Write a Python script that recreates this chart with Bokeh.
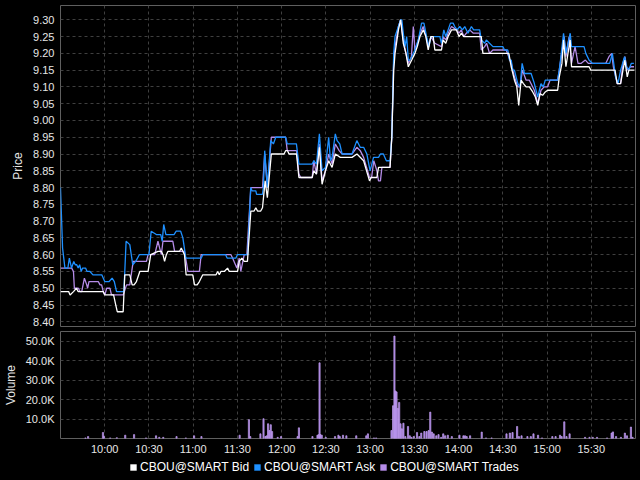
import numpy as np
from bokeh.plotting import figure
from bokeh.models import (ColumnDataSource, Range1d, FixedTicker, Legend, LegendItem,
                          GlobalInlineStyleSheet)
from bokeh.layouts import column
from bokeh.embed import file_html
from bokeh.resources import INLINE

# ---------------- data (times = minutes after the 09:30 open) ----------------
ask_t = [0, 1.4, 3, 5, 6, 7.5, 9, 10, 11, 12, 13, 14, 15, 17, 18, 20, 22, 28, 30, 33,
         35, 36.5, 38, 43, 44.5, 47, 49, 51, 53.5, 60, 61.5, 65, 68, 69, 70, 71.5, 77, 78.5,
         81.5, 83, 85, 95.5, 96.5, 112, 113, 119, 120, 127, 129, 130, 132.5, 133, 137, 137.6,
         138.5, 140.3, 142.6, 144.4, 146, 152.7, 153.8, 160, 161.7, 170.7, 171.8, 173.6, 175.6,
         177.4, 179.7, 181.9, 183.1, 184.2, 186.4, 187.6, 189.4, 191, 197.7, 201, 203.3, 205.6,
         207.8, 210, 212.3, 215.7, 217, 219, 221, 223.5, 224.7, 226, 226.9, 229.2, 230.7, 231.5,
         232.5, 233.7, 234.8, 235.9, 237, 238.2, 240.4, 242.7, 244.9, 246.5, 248.3, 249.9,
         251.2, 252.8, 257.3, 258.4, 260, 261.3, 262.9, 264.5, 266.3, 267.4, 269, 270.8, 272.6,
         274.2, 276.4, 278.7, 280.2, 284.3, 285.4, 287.7, 288.8, 291, 293.3, 300, 301.2, 303.4,
         304.5, 305.7, 306.8, 307.9, 309, 310.2, 311.7, 313.1, 314.7, 316.9, 319.2, 321.4,
         323.7, 325.9, 327.5, 328.8, 331.5, 337.2, 338.3, 339.4, 341.2, 342.8, 345.7, 346.6,
         355.1, 356.3, 358.5, 360.8, 370.9, 372.5, 374.3, 376.5, 378.1, 379.9, 382.6, 383.9,
         385.5, 387.1, 388.9]
ask_p = [8.80, 8.62, 8.56, 8.56, 8.59, 8.56, 8.58, 8.57, 8.57, 8.56, 8.57, 8.55, 8.56, 8.56,
         8.55, 8.55, 8.54, 8.54, 8.52, 8.52, 8.53, 8.52, 8.49, 8.49, 8.64, 8.63, 8.57, 8.58,
         8.60, 8.60, 8.67, 8.66, 8.66, 8.64, 8.69, 8.66, 8.66, 8.67, 8.67, 8.65, 8.59, 8.59,
         8.60, 8.60, 8.59, 8.59, 8.60, 8.60, 8.80, 8.79, 8.79, 8.78, 8.78, 8.80, 8.91, 8.80,
         8.94, 8.93, 8.95, 8.95, 8.93, 8.93, 8.87, 8.87, 8.88, 8.87, 8.96, 8.85, 8.86, 8.95,
         8.88, 8.89, 8.96, 8.94, 8.93, 8.90, 8.90, 8.94, 8.92, 8.92, 8.90, 8.85, 8.89, 8.89,
         8.90, 8.90, 8.88, 8.88, 8.95, 9.20, 9.25, 9.28, 9.30, 9.30, 9.26, 9.22, 9.25, 9.18,
         9.18, 9.19, 9.21, 9.24, 9.29, 9.29, 9.25, 9.22, 9.25, 9.25, 9.25, 9.23, 9.27, 9.25,
         9.27, 9.29, 9.29, 9.28, 9.27, 9.28, 9.27, 9.28, 9.26, 9.28, 9.27, 9.27, 9.24, 9.23,
         9.24, 9.23, 9.22, 9.22, 9.21, 9.21, 9.18, 9.18, 9.15, 9.15, 9.13, 9.11, 9.10, 9.17,
         9.14, 9.14, 9.14, 9.11, 9.07, 9.11, 9.10, 9.12, 9.12, 9.12, 9.15, 9.19, 9.26, 9.20,
         9.26, 9.22, 9.22, 9.20, 9.18, 9.17, 9.17, 9.17, 9.20, 9.13, 9.11, 9.15, 9.19, 9.16,
         9.15, 9.17, 9.17]

bid_t = [0, 5.5, 6.5, 8.8, 10.8, 12, 29, 30, 36, 37.5, 38.5, 42.5, 43.6, 47, 48.6, 49.9,
         51.5, 53.8, 59.4, 61.2, 66.1, 68.4, 69.5, 70.6, 71.8, 72.9, 80.8, 81.9, 84.1, 85.2,
         89.7, 90.9, 92.7, 94.2, 96.5, 97.6, 105.5, 106.6, 107.7, 108.8, 111.1, 113.3, 114.5,
         120.1, 121.2, 123, 124.6, 126.8, 129.1, 131.3, 132.5, 133.6, 135.8, 137, 138.8, 140.3,
         143, 151.6, 152.7, 154, 155, 160.1, 161.7, 170.7, 171.8, 173.6, 175.6, 177.4, 179.7,
         181.9, 184.2, 186.4, 189.8, 197.7, 201.1, 205.6, 209.6, 210.7, 214.6, 215.7, 223.5,
         224.7, 226, 226.9, 229.2, 230.7, 232.5, 234.3, 235.9, 238.2, 240.4, 242, 243.8, 246.1,
         247.8, 249.4, 251.2, 252.8, 253.9, 258.4, 259.5, 261.3, 262.9, 265.2, 268.5, 270.3,
         271.9, 273.5, 275.3, 285.4, 286.5, 300, 302.3, 304.1, 305.7, 307.9, 309.5, 310.8,
         312.4, 314, 315.8, 318, 320.3, 322.1, 323.7, 325.2, 327, 328.8, 330.4, 337.2, 338.3,
         340.1, 341.2, 342.8, 344.2, 345.7, 346.6, 358.5, 359.7, 361.9, 376.1, 377.6, 379.9,
         381.5, 382.8, 384.4, 385.5, 387.8, 389.3]
bid_p = [8.49, 8.49, 8.48, 8.49, 8.50, 8.49, 8.49, 8.48, 8.48, 8.45, 8.43, 8.43, 8.54, 8.54,
         8.51, 8.51, 8.52, 8.55, 8.55, 8.60, 8.61, 8.61, 8.60, 8.58, 8.60, 8.61, 8.61, 8.62,
         8.60, 8.54, 8.54, 8.51, 8.51, 8.52, 8.54, 8.54, 8.54, 8.55, 8.54, 8.55, 8.55, 8.56,
         8.55, 8.55, 8.58, 8.59, 8.58, 8.58, 8.73, 8.73, 8.74, 8.73, 8.73, 8.74, 8.82, 8.77,
         8.90, 8.90, 8.91, 8.91, 8.90, 8.90, 8.83, 8.83, 8.85, 8.84, 8.92, 8.81, 8.85, 8.88,
         8.86, 8.90, 8.89, 8.89, 8.90, 8.88, 8.82, 8.83, 8.83, 8.86, 8.86, 8.95, 9.15, 9.20,
         9.27, 9.30, 9.23, 9.20, 9.16, 9.18, 9.20, 9.22, 9.25, 9.27, 9.25, 9.21, 9.25, 9.25,
         9.21, 9.21, 9.24, 9.23, 9.25, 9.27, 9.27, 9.25, 9.26, 9.25, 9.25, 9.25, 9.20, 9.20,
         9.20, 9.20, 9.16, 9.12, 9.10, 9.045, 9.12, 9.11, 9.10, 9.10, 9.085, 9.07, 9.045, 9.08,
         9.075, 9.085, 9.09, 9.09, 9.13, 9.17, 9.24, 9.16, 9.20, 9.24, 9.16, 9.16, 9.15, 9.15,
         9.15, 9.11, 9.11, 9.15, 9.18, 9.13, 9.15, 9.15, 9.15]

trade_t = [0, 7.6, 8.8, 9.4, 12.1, 13.3, 14.4, 16.2, 17.8, 18.4, 19.3, 25.6, 26.8, 27.9, 29,
           30.1, 31.3, 33.5, 34.6, 42.5, 44.8, 47, 49.3, 58.3, 59.4, 63.9, 66.1, 68.4, 69.5,
           76.2, 77.4, 84.1, 86.4, 94.2, 95.4, 115.6, 116.7, 119.6, 121.2, 122.3, 124.6, 126.4,
           129.1, 137, 138.5, 140.3, 143, 152.7, 153.8, 160.1, 161.7, 163, 170.7, 171.8, 173.6,
           175.6, 177.4, 179.7, 181.9, 184.2, 186.4, 189, 191, 197.7, 201, 203.3, 205.6, 209.6,
           211, 212.5, 214.6, 215.7, 217, 218, 223.5, 224.7, 226, 226.9, 229.2, 230.7, 232.5,
           234.3, 235.9, 238, 239.3, 240.4, 242, 244, 246, 248, 249.4, 251.2, 253.9, 258.4,
           259.5, 261.3, 262.9, 265.2, 268.5, 270.3, 271.9, 273.5, 275.3, 277.5, 280, 284.3,
           285.4, 287.7, 289, 291, 293.3, 300, 302.3, 305.7, 307.9, 310.2, 311.7, 313.3, 315.8,
           318, 321.4, 323.7, 325.9, 328, 330.4, 332, 337.2, 338.3, 341.6, 342.8, 345, 346.6,
           349, 351, 353, 356, 358, 369.8, 372, 373.8, 375, 377.6, 379.9, 381.5, 382.8, 384.4,
           386.6, 389]
trade_p = [8.56, 8.56, 8.55, 8.50, 8.50, 8.49, 8.49, 8.53, 8.51, 8.50, 8.52, 8.52, 8.51,
           8.51, 8.49, 8.48, 8.50, 8.50, 8.48, 8.48, 8.51, 8.51, 8.58, 8.58, 8.60, 8.60, 8.64,
           8.60, 8.64, 8.64, 8.61, 8.61, 8.55, 8.55, 8.60, 8.60, 8.59, 8.56, 8.59, 8.55, 8.60,
           8.60, 8.80, 8.80, 8.90, 8.80, 8.95, 8.95, 8.91, 8.91, 8.84, 8.83, 8.83, 8.88, 8.84,
           8.93, 8.82, 8.85, 8.90, 8.87, 8.93, 8.91, 8.90, 8.90, 8.92, 8.91, 8.89, 8.83, 8.83,
           8.88, 8.85, 8.82, 8.82, 8.86, 8.86, 8.95, 9.18, 9.22, 9.28, 9.30, 9.24, 9.20, 9.17,
           9.19, 9.28, 9.21, 9.23, 9.26, 9.28, 9.25, 9.22, 9.25, 9.23, 9.22, 9.25, 9.24, 9.26,
           9.28, 9.27, 9.26, 9.27, 9.25, 9.26, 9.27, 9.26, 9.26, 9.21, 9.22, 9.23, 9.20, 9.21,
           9.21, 9.21, 9.17, 9.13, 9.10, 9.10, 9.15, 9.12, 9.12, 9.09, 9.05, 9.09, 9.10, 9.10,
           9.12, 9.12, 9.15, 9.25, 9.19, 9.25, 9.17, 9.22, 9.17, 9.17, 9.18, 9.17, 9.17, 9.19,
           9.20, 9.16, 9.11, 9.11, 9.17, 9.19, 9.15, 9.16, 9.16]

vol_t = [16.9, 18.7, 28.8, 29.5, 33.7, 38.2, 43.9, 49.9, 58, 64.8, 67, 69.7, 78.7, 85, 90.6,
         95.6, 121.5, 127.8, 128.7, 135.6, 137.7, 139, 139.9, 140.8, 141.7, 142.6, 143.5,
         147.3, 149.6, 160.8, 161.7, 170.9, 174.3, 175.2, 175.7, 176.3, 177.2, 179.9, 186.2,
         188.5, 189.4, 191.6, 193.9, 200.6, 207.4, 208.5, 212.6, 214.1, 224.5, 225.6, 226.5,
         227.2, 227.9, 228.8, 229.7, 230.6, 231.5, 232.6, 233.9, 235.7, 236.9, 238, 239.6,
         241.8, 243.4, 244.7, 246.8, 248.3, 249.7, 250.8, 251.9, 253.1, 254.9, 256.4, 258.2,
         259.6, 260.9, 262.7, 265.4, 270.6, 273.3, 274.4, 275.5, 277.8, 285.7, 288.6, 292.4,
         302.5, 304.8, 306.6, 309.7, 310.9, 312.7, 316.7, 319, 320.8, 323.9, 326.6, 333.6,
         335.8, 338.8, 339.9, 341.7, 343.2, 345.3, 355.8, 358.8, 361, 363.9, 370.7, 373.8,
         374.7, 376.8, 380.1, 382.8, 384.2, 386.9, 388]
vol_k = [0.3, 1.0, 3.1, 1.0, 0.3, 0.4, 1.7, 2.0, 0.3, 1.4, 0.6, 0.6, 1.0, 0.3, 1.4, 1.0, 1.7,
         9.7, 1.0, 2.4, 10.2, 1.0, 1.4, 7.6, 4.1, 7.1, 3.6, 0.6, 1.0, 1.0, 5.5, 1.0, 1.7, 2.0,
         39.0, 2.0, 1.7, 0.6, 1.0, 1.7, 1.0, 1.7, 1.4, 1.4, 1.4, 2.4, 0.3, 0.3, 4.1, 16.9, 52.8,
         24.5, 24.0, 15.5, 18.6, 7.6, 5.0, 7.9, 1.0, 6.2, 1.4, 0.6, 1.0, 3.1, 1.0, 2.8, 3.6,
         3.6, 4.1, 13.6, 3.3, 2.4, 1.4, 2.0, 0.6, 2.4, 1.4, 1.7, 1.0, 1.7, 1.4, 1.4, 1.0, 1.4,
         3.3, 0.3, 0.3, 2.4, 2.8, 3.1, 6.2, 1.0, 1.4, 1.0, 1.0, 2.4, 1.7, 0.3, 1.0, 1.0, 1.7,
         1.0, 8.6, 1.0, 2.4, 0.6, 0.6, 0.6, 0.6, 0.3, 2.8, 3.4, 1.0, 0.6, 2.8, 1.4, 5.9, 0.6]

time_tick_labels = ["10:00", "10:30", "11:00", "11:30", "12:00", "12:30",
                    "13:00", "13:30", "14:00", "14:30", "15:00", "15:30"]
price_tick_labels = ["8.40", "8.45", "8.50", "8.55", "8.60", "8.65", "8.70", "8.75", "8.80",
                     "8.85", "8.90", "8.95", "9.00", "9.05", "9.10", "9.15", "9.20", "9.25",
                     "9.30"]
volume_tick_labels = ["10.0K", "20.0K", "30.0K", "40.0K", "50.0K"]
series_names = ["CBOU@SMART Bid", "CBOU@SMART Ask", "CBOU@SMART Trades"]

# ---------------- styling ----------------
FONT = "Liberation Sans"
BID_C, ASK_C, TRD_C = "#ffffff", "#1e90ff", "#b58ce8"
GRID_C = "#3f3f3f"
OPEN_MIN = 9 * 60 + 30

time_ticks = [int(s[:2]) * 60 + int(s[3:]) - OPEN_MIN for s in time_tick_labels]
price_ticks = [float(s) for s in price_tick_labels]
volume_ticks = [float(s[:-1]) * 1000 for s in volume_tick_labels]


def base_style(p):
    p.background_fill_color = "black"
    p.border_fill_color = "black"
    p.outline_line_color = "#5f5f5f"
    p.outline_line_width = 1
    for g in (p.xgrid[0], p.ygrid[0]):
        g.grid_line_color = GRID_C
        g.grid_line_dash = "3 3"
        g.grid_line_width = 1
    p.xgrid.ticker = FixedTicker(ticks=time_ticks)
    for ax in p.axis:
        ax.axis_line_color = None
        ax.major_tick_line_color = None
        ax.minor_tick_line_color = None
        ax.major_tick_out = 0
        ax.major_tick_in = 0
        ax.minor_tick_out = 0
        ax.minor_tick_in = 0
        ax.major_label_text_color = "#e6e6e6"
        ax.major_label_text_font = FONT
        ax.major_label_text_font_size = "11px"
        ax.axis_label_text_color = "#e6e6e6"
        ax.axis_label_text_font = FONT
        ax.axis_label_text_font_size = "12px"
        ax.axis_label_text_font_style = "normal"


W = 640

# ---------------- price panel ----------------
p1 = figure(width=W, height=329, output_backend="svg", toolbar_location=None,
            x_range=Range1d(0, 390), y_range=Range1d(8.386, 9.3426),
            min_border_left=57, min_border_right=5, min_border_top=5, min_border_bottom=3)
base_style(p1)
p1.xaxis.visible = False
p1.yaxis.ticker = FixedTicker(ticks=price_ticks)
p1.yaxis.major_label_overrides = {t: s for t, s in zip(price_ticks, price_tick_labels)}
p1.ygrid.ticker = FixedTicker(ticks=price_ticks)
p1.yaxis.axis_label = "Price"
p1.yaxis.major_label_standoff = 6
p1.yaxis.axis_label_standoff = 5

p1.line(trade_t, trade_p, line_color=TRD_C, line_width=1.3)
p1.line(ask_t, ask_p, line_color=ASK_C, line_width=1.3)
p1.line(bid_t, bid_p, line_color=BID_C, line_width=1.3)

# ---------------- volume panel ----------------
p2 = figure(width=W, height=129, output_backend="svg", toolbar_location=None,
            x_range=p1.x_range, y_range=Range1d(0, 55150),
            min_border_left=57, min_border_right=5, min_border_top=2, min_border_bottom=20)
base_style(p2)
p2.yaxis.ticker = FixedTicker(ticks=volume_ticks)
p2.yaxis.major_label_overrides = {t: s for t, s in zip(volume_ticks, volume_tick_labels)}
p2.ygrid.ticker = FixedTicker(ticks=volume_ticks)
p2.yaxis.axis_label = "Volume"
p2.yaxis.major_label_standoff = 6
p2.yaxis.axis_label_standoff = 5
p2.xaxis.ticker = FixedTicker(ticks=time_ticks)
p2.xaxis.major_label_overrides = {t: s for t, s in zip(time_ticks, time_tick_labels)}
p2.xaxis.major_label_standoff = 4

vsrc = ColumnDataSource(dict(t=vol_t, v=[k * 1000 for k in vol_k]))
p2.vbar(x="t", top="v", width=0.8, bottom=0, source=vsrc,
        fill_color="#9a74d6", line_color="#c5a2f4", line_width=0.7)

# ---------------- legend strip ----------------
p3 = figure(width=W, height=18, output_backend="svg", toolbar_location=None,
            x_range=Range1d(0, 1), y_range=Range1d(0, 1),
            min_border_left=57, min_border_right=5, min_border_top=0, min_border_bottom=0)
p3.background_fill_color = "black"
p3.border_fill_color = "black"
p3.outline_line_color = None
p3.xaxis.visible = False
p3.yaxis.visible = False
p3.xgrid.visible = False
p3.ygrid.visible = False
off = dict(left=[5], right=[6], top=[5], bottom=[4])   # swatch glyphs, outside the view
r_bid = p3.quad(**off, fill_color=BID_C, line_color=None)
r_ask = p3.quad(**off, fill_color=ASK_C, line_color=None)
r_trd = p3.quad(**off, fill_color=TRD_C, line_color=None)
legend = Legend(items=[LegendItem(label=series_names[0], renderers=[r_bid]),
                       LegendItem(label=series_names[1], renderers=[r_ask]),
                       LegendItem(label=series_names[2], renderers=[r_trd])],
                orientation="horizontal", location=(69, 2),
                background_fill_alpha=0, border_line_alpha=0,
                label_text_color="#ffffff", label_text_font=FONT,
                label_text_font_size="12px", glyph_width=8, glyph_height=8,
                label_standoff=3, spacing=4, padding=0, margin=0, label_height=14)
p3.add_layout(legend, "center")

layout = column(p1, p2, p3, spacing=0,
                stylesheets=[GlobalInlineStyleSheet(
                    css="html, body { margin: 0; padding: 0; background-color: #000000; overflow: hidden; }")])

open("out.html", "w").write(file_html(layout, INLINE))
